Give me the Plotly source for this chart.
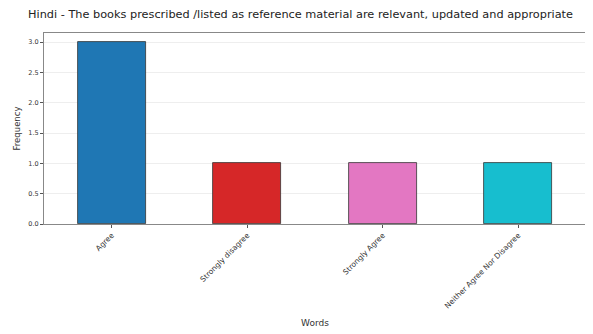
import plotly.graph_objects as go

categories = ["Agree", "Strongly disagree", "Strongly Agree", "Neither Agree Nor Disagree"]
values = [3, 1, 1, 1]
colors = ["#1f77b4", "#d62728", "#e377c2", "#17becf"]
y_ticks = [0.0, 0.5, 1.0, 1.5, 2.0, 2.5, 3.0]
y_tick_labels = ["0.0", "0.5", "1.0", "1.5", "2.0", "2.5", "3.0"]
title = "Hindi - The books prescribed /listed as reference material are relevant, updated and appropriate"

fig = go.Figure(go.Bar(
    x=list(range(len(categories))),
    y=values,
    width=0.5,
    marker=dict(color=colors, line=dict(color="#333333", width=0.8)),
))

fig.update_layout(
    width=585, height=326,
    margin=dict(l=36, r=7, t=25, b=110),
    paper_bgcolor="white", plot_bgcolor="white",
    font=dict(family="DejaVu Sans", color="#333333"),
    title=dict(text=title, x=0.5, xanchor="center", y=0.995, yanchor="top",
               font=dict(size=11.3, color="#222222")),
    showlegend=False,
    bargap=0,
)
fig.update_xaxes(
    range=[-0.5, 3.5], automargin=False,
    tickmode="array", tickvals=list(range(len(categories))), ticktext=categories,
    tickangle=-45, tickfont=dict(size=7.5),
    ticks="outside", ticklen=3, tickcolor="#555555",
    showline=True, linecolor="#888888", linewidth=1, mirror=True,
    showgrid=False,
    title=dict(text="Words", font=dict(size=9), standoff=10),
)
fig.update_yaxes(
    range=[0, 3.15], automargin=False,
    tickmode="array", tickvals=y_ticks, ticktext=y_tick_labels,
    tickfont=dict(size=6.5),
    ticks="outside", ticklen=3, tickcolor="#555555",
    showline=True, linecolor="#888888", linewidth=1, mirror=True,
    showgrid=True, gridcolor="#eeeeee", gridwidth=1,
    zeroline=False,
    title=dict(text="Frequency", font=dict(size=8.5), standoff=6),
)
fig.write_html("out.html")
